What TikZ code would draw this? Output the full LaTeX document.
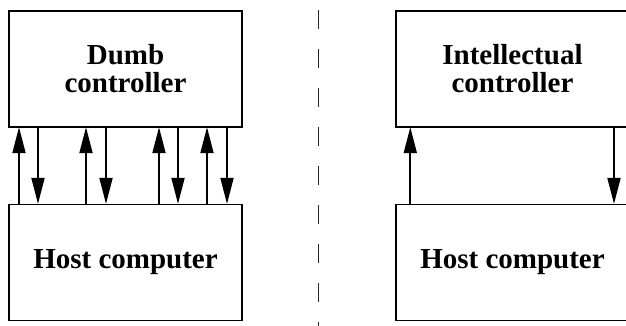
\documentclass[tikz,border=0pt]{standalone}
\usepackage{fontspec}
\setmainfont{Liberation Serif}
\usetikzlibrary{arrows.meta}
\tikzset{
  box/.style={draw, line width=1.8pt, rectangle, minimum width=233pt, minimum height=116pt,
    inner sep=0pt, outer sep=0pt, align=center,
    font=\fontsize{29}{29}\selectfont\bfseries},
  link/.style={line width=1.8pt, -{Triangle[length=26pt, width=13pt]}, shorten >=0.5pt},
  divider/.style={line width=1.1pt, black!85, dash pattern=on 19pt off 20pt}
}
\begin{document}
\begin{tikzpicture}[x=1pt, y=-1pt]
  \useasboundingbox (0,0) rectangle (626,325);
  \fill[white] (0,0) rectangle (626,325);

  % left half: dumb controller with eight one-way lines
  \node[box] (dumb) at (125.5,68.7) {Dumb\\[-1pt]controller};
  \node[box] (hostL) at (125.5,262.4) {Host computer};
  \foreach \u in {19,86,159,207}
    \draw[link] (hostL.north -| \u,0) -- (dumb.south -| \u,0);
  \foreach \d in {38,106,178,227}
    \draw[link] (dumb.south -| \d,0) -- (hostL.north -| \d,0);

  % separator
  \coordinate (sepTop) at (318.3,10);
  \coordinate (sepBot) at (318.3,330);
  \draw[divider] (sepTop) -- (sepBot);

  % right half: intellectual controller with two lines
  \node[box] (smart) at (512.5,68.7) {Intellectual\\[-1pt]controller};
  \node[box] (hostR) at (512.5,262.4) {Host computer};
  \draw[link] (hostR.north -| 410.3,0) -- (smart.south -| 410.3,0);
  \draw[link] (smart.south -| 614,0) -- (hostR.north -| 614,0);
\end{tikzpicture}
\end{document}
